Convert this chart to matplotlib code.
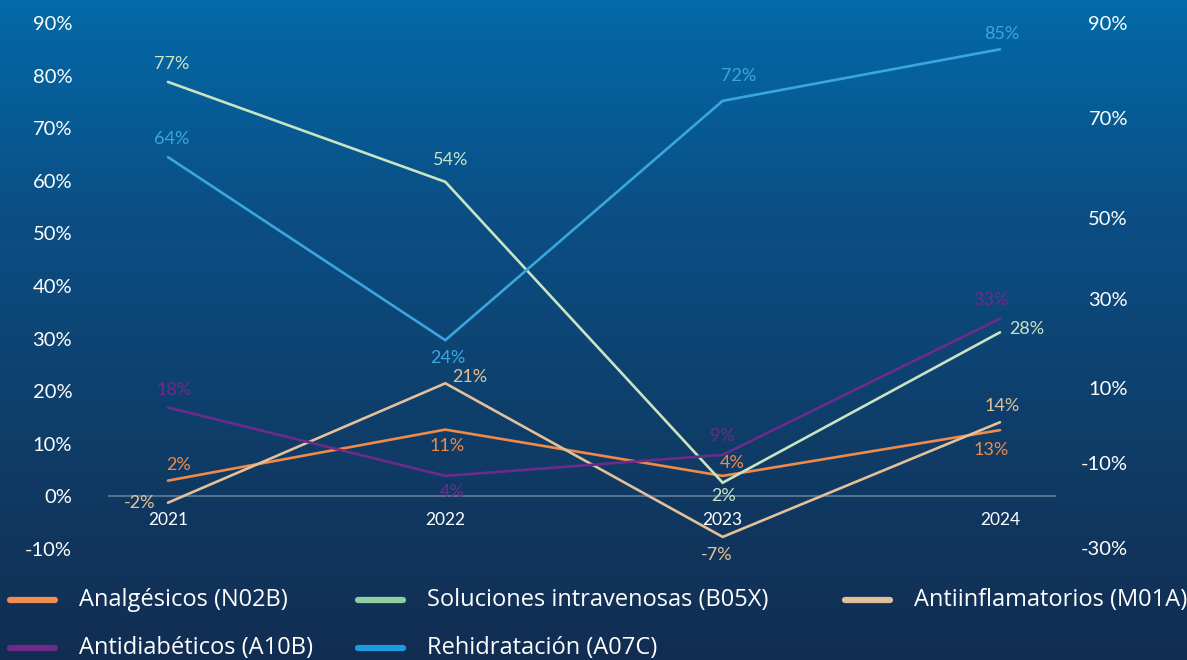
import numpy as np
import matplotlib
matplotlib.use("Agg")
import matplotlib.pyplot as plt
from matplotlib.lines import Line2D
from matplotlib.colors import LinearSegmentedColormap

plt.rcParams['font.family'] = ['Lato', 'DejaVu Sans']

# ---- data ----
years = ["2021", "2022", "2023", "2024"]
series_names = ["Analgésicos (N02B)", "Soluciones intravenosas (B05X)",
                "Antiinflamatorios (M01A)", "Antidiabéticos (A10B)",
                "Rehidratación (A07C)"]
analgesicos = [3.0, 12.7, 3.9, 12.6]
soluciones = [78.8, 59.8, 2.6, 31.2]
antiinflam = [-1.2, 21.5, -7.7, 14.1]
antidiab = [16.9, 3.9, 7.9, 33.8]
rehidrat = [64.5, 29.7, 75.2, 85.0]

lab_analgesicos = ["2%", "11%", "4%", "13%"]
lab_soluciones = ["77%", "54%", "2%", "28%"]
lab_antiinflam = ["-2%", "21%", "-7%", "14%"]
lab_antidiab = ["18%", "4%", "9%", "33%"]
lab_rehidrat = ["64%", "24%", "72%", "85%"]

left_ticks = [-10, 0, 10, 20, 30, 40, 50, 60, 70, 80, 90]
right_tick_labels = ["90%", "70%", "50%", "30%", "10%", "-10%", "-30%"]
right_tick_pos = [90.1, 72.1, 53.0, 37.6, 20.7, 6.3, -9.9]

# ---- styles ----
line_colors = ["#f08a4b", "#c8e4c2", "#e3c199", "#6c2b8c", "#3aa6de"]
legend_colors = ["#f28c50", "#8fcfa0", "#e0c09a", "#6c2b8c", "#1a9de0"]
values = [analgesicos, soluciones, antiinflam, antidiab, rehidrat]
labels = [lab_analgesicos, lab_soluciones, lab_antiinflam, lab_antidiab, lab_rehidrat]
# label offsets in pixels (dx, dy up), with alignment
offsets = [
    [(11, 16, 'center'), (2, -16, 'center'), (10, 13, 'center'), (-9, -20, 'center')],
    [(4, 18, 'center'), (5, 22, 'center'), (1, -13, 'center'), (9, 3, 'left')],
    [(-13, 0, 'right'), (7, 6, 'left'), (-6, -18, 'center'), (2, 16, 'center')],
    [(6, 18, 'center'), (7, -16, 'center'), (0, 19, 'center'), (-9, 19, 'center')],
    [(4, 18, 'center'), (3, -18, 'center'), (16, 25, 'center'), (2, 15, 'center')],
]

W, H = 1187, 660
fig = plt.figure(figsize=(W / 100, H / 100), dpi=100)

# gradient background
bg = fig.add_axes([0, 0, 1, 1], zorder=-10)
cmap = LinearSegmentedColormap.from_list("bg", ["#036aa8", "#0b4e84", "#0f3d68", "#122d52"])
grad = np.linspace(0, 1, 256).reshape(-1, 1)
bg.imshow(grad, aspect='auto', cmap=cmap, extent=[0, 1, 0, 1], origin='upper')
bg.axis('off')

px = 1 / W
py = 1 / H
ax = fig.add_axes([109 * px, 1 - 549 * py, 946 * px, 526 * py])
ax.set_facecolor('none')
x = np.arange(len(years))
ax.set_xlim(-59 / 277.5, 3 + 55 / 277.5)
ax.set_ylim(-10, 90)

for vals, col, labs, offs in zip(values, line_colors, labels, offsets):
    ax.plot(x, vals, color=col, lw=1.9, solid_capstyle='round', solid_joinstyle='miter', zorder=3)
    for xi, v, t, (dx, dy, ha) in zip(x, vals, labs, offs):
        ax.annotate(t, (xi, v), xytext=(dx * 0.72, dy * 0.72), textcoords='offset points',
                    ha=ha, va='center', color=col, fontsize=13, zorder=4)

for s in ['top', 'right', 'left']:
    ax.spines[s].set_visible(False)
ax.spines['bottom'].set_position(('data', 0))
ax.spines['bottom'].set_color('#6f8aa3')
ax.spines['bottom'].set_alpha(0.7)
ax.spines['bottom'].set_linewidth(1.5)
ax.set_xticks(x)
ax.set_xticklabels(years)
ax.tick_params(axis='x', length=0, pad=11.5, labelsize=12.5, labelcolor='white')
ax.set_yticks(left_ticks)
ax.set_yticklabels([f"{t}%" for t in left_ticks])
ax.tick_params(axis='y', length=0, pad=26.5, labelsize=14.5, labelcolor='white')

ax2 = ax.twinx()
ax2.set_ylim(ax.get_ylim())
for s in ax2.spines.values():
    s.set_visible(False)
ax2.set_yticks(right_tick_pos)
ax2.set_yticklabels(right_tick_labels)
ax2.tick_params(axis='y', length=0, pad=52.5, labelsize=14.5, labelcolor='white')
for lab in ax2.get_yticklabels():
    lab.set_horizontalalignment('right')

# legend (manual)
leg_pos = [(10, 600), (358, 600), (845, 600), (10, 648), (358, 648)]
for (lx, ly), name, col in zip(leg_pos, series_names, legend_colors):
    fig.add_artist(Line2D([lx * px, (lx + 45) * px], [1 - ly * py, 1 - ly * py],
                          transform=fig.transFigure, color=col, lw=4.5,
                          solid_capstyle='round'))
    fig.text((lx + 69) * px, 1 - ly * py, name, color='white', fontsize=17,
             ha='left', va='center', family=['Open Sans', 'DejaVu Sans'])

fig.savefig("out.png", dpi=100)
